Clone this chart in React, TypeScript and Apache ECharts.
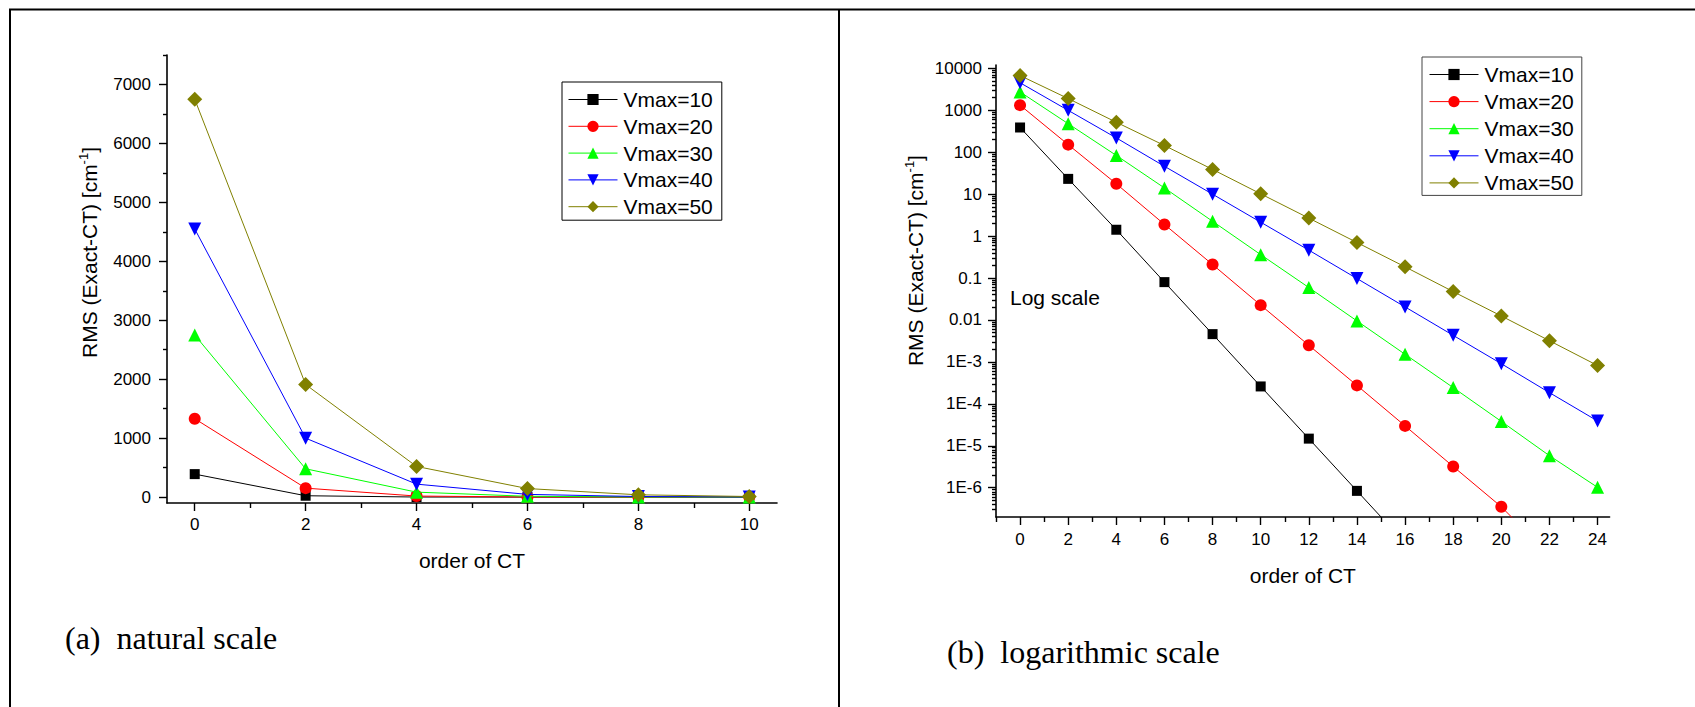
import React, { useEffect, useRef } from 'react';
import * as echarts from 'echarts';

// ---- data ----
const orders = [0, 2, 4, 6, 8, 10, 12, 14, 16, 18, 20, 22, 24];
const seriesNames = ['Vmax=10', 'Vmax=20', 'Vmax=30', 'Vmax=40', 'Vmax=50'];
const vmax10 = [390, 23.2, 1.42, 0.08, 0.0046, 2.6e-4, 1.48e-5, 8.4e-7, 4.8e-8];
const vmax20 = [1330, 152, 17.7, 1.9, 0.21, 0.0226, 0.00249, 2.75e-4, 2.98e-5, 3.2e-6, 3.5e-7, 2.5e-8];
const vmax30 = [2750, 480, 84, 14.1, 2.26, 0.362, 0.0594, 0.0095, 0.00152, 2.44e-4, 3.81e-5, 5.8e-6, 1.02e-6];
const vmax40 = [4550, 1000, 220, 46.3, 10.0, 2.15, 0.463, 0.0975, 0.0205, 0.0043, 9.06e-4, 1.85e-4, 3.9e-5];
const vmax50 = [6750, 1910, 520, 145, 39, 10.2, 2.69, 0.705, 0.185, 0.0475, 0.01245, 0.0032, 8.2e-4];
const allValues = [vmax10, vmax20, vmax30, vmax40, vmax50];

// tick labels
const linXMajor = [0, 2, 4, 6, 8, 10];
const linXMinor = [1, 3, 5, 7, 9];
const linYMajor = [0, 1000, 2000, 3000, 4000, 5000, 6000, 7000];
const linYMinor = [500, 1500, 2500, 3500, 4500, 5500, 6500, 7500];
const logXMajor = [0, 2, 4, 6, 8, 10, 12, 14, 16, 18, 20, 22, 24];
const logXMinor = [-1, 1, 3, 5, 7, 9, 11, 13, 15, 17, 19, 21, 23];
const logYMajor = [1e-6, 1e-5, 1e-4, 1e-3, 0.01, 0.1, 1, 10, 100, 1000, 10000];
const logYLabels = ['1E-6', '1E-5', '1E-4', '1E-3', '0.01', '0.1', '1', '10', '100', '1000', '10000'];
const logYMin = 2e-7;
const logYMax = 12000;
const logYMinor: number[] = [];
for (let k = -7; k <= 4; k++) {
  for (let m = 2; m <= 9; m++) {
    const v = m * Math.pow(10, k);
    if (v > logYMin * 1.0001 && v < logYMax) logYMinor.push(v);
  }
}

// ---- styles ----
const styles = [
  { color: '#000000', symbol: 'rect', size: 10, rotate: 0 },
  { color: '#ff0000', symbol: 'circle', size: 12, rotate: 0 },
  { color: '#00ff00', symbol: 'triangle', size: 13, rotate: 0 },
  { color: '#0000ff', symbol: 'triangle', size: 13, rotate: 180 },
  { color: '#808000', symbol: 'diamond', size: 15, rotate: 0 },
];
const FONT = "'Liberation Sans', Arial, sans-serif";
const SERIF = "'Liberation Serif', 'Times New Roman', serif";

function mkAxis(o: any) {
  const {
    gridIndex, type = 'value', min, max, ticks, labels, tickLen, main, formatter, margin, name, nameGap, namePad,
  } = o;
  return {
    type,
    gridIndex,
    min,
    max,
    position: o.position,
    offset: 0,
    axisLine: { show: !!main, onZero: false, lineStyle: { color: '#000', width: 1.6 } },
    axisTick: { show: true, inside: false, customValues: ticks, length: tickLen, lineStyle: { color: '#000', width: 1.4 } },
    axisLabel: main
      ? {
          show: true,
          customValues: labels || ticks,
          margin,
          fontSize: 17,
          color: '#000',
          fontFamily: FONT,
          formatter: formatter || ((v: number) => String(v)),
        }
      : { show: false },
    splitLine: { show: false },
    minorTick: { show: false },
    name: main ? name : undefined,
    nameLocation: 'middle',
    nameGap,
    nameTextStyle: {
      fontSize: 21,
      color: '#000',
      fontFamily: FONT,
      padding: namePad || 0,
      lineHeight: 24,
      rich: {
        sup: { fontSize: 13, fontFamily: FONT, color: '#000', verticalAlign: 'top', lineHeight: 12 },
      },
    },
  };
}

const logFormatter = (v: number) => {
  const e = Math.round(Math.log10(v));
  const idx = logYMajor.findIndex((t) => Math.round(Math.log10(t)) === e);
  return idx >= 0 ? logYLabels[idx] : '';
};

const yTitle = 'RMS (Exact-CT) [cm{sup|-1}]';

function buildSeries() {
  const out: any[] = [];
  allValues.forEach((vals, i) => {
    const st = styles[i];
    const common = {
      type: 'line',
      name: seriesNames[i],
      symbol: st.symbol,
      symbolSize: st.size,
      symbolRotate: st.rotate,
      showAllSymbol: true,
      clip: true,
      lineStyle: { color: st.color, width: 1 },
      itemStyle: { color: st.color },
      emphasis: { disabled: true },
      z: 2 + i,
    };
    const pts = vals.map((v, j) => [orders[j], v]);
    out.push({ ...common, xAxisIndex: 0, yAxisIndex: 0, data: pts.filter((p) => p[0] <= 10) });
    out.push({ ...common, xAxisIndex: 2, yAxisIndex: 2, data: pts });
  });
  return out;
}

const legendBase = {
  orient: 'vertical',
  data: seriesNames,
  itemWidth: 49,
  itemHeight: 14,
  itemGap: 5.8,
  borderColor: '#000',
  borderWidth: 1,
  backgroundColor: '#fff',
  selectedMode: false,
  lineStyle: { width: 1 },
  textStyle: { fontSize: 21, lineHeight: 21, color: '#000', fontFamily: FONT, padding: [0, 0, 0, 1] },
};

export default function App() {
  const ref = useRef<HTMLDivElement>(null);
  useEffect(() => {
    const chart = echarts.init(ref.current!, null, { renderer: 'svg' });
    const option: any = {
      animation: false,
      backgroundColor: '#fff',
      grid: [
        { left: 167, top: 55, width: 610, height: 448, outerBoundsMode: 'none', containLabel: false },
        { left: 996, top: 65.1, width: 613.6, height: 451.9, outerBoundsMode: 'none', containLabel: false },
      ],
      xAxis: [
        mkAxis({ gridIndex: 0, min: -0.5, max: 10.5, ticks: linXMajor, tickLen: 8, main: true, margin: 13, name: 'order of CT', nameGap: 45, position: 'bottom' }),
        mkAxis({ gridIndex: 0, min: -0.5, max: 10.5, ticks: linXMinor, tickLen: 5, main: false, position: 'bottom' }),
        mkAxis({ gridIndex: 1, min: -1, max: 24.5, ticks: logXMajor, tickLen: 8, main: true, margin: 14, name: 'order of CT', nameGap: 46, position: 'bottom' }),
        mkAxis({ gridIndex: 1, min: -1, max: 24.5, ticks: logXMinor, tickLen: 5, main: false, position: 'bottom' }),
      ],
      yAxis: [
        mkAxis({ gridIndex: 0, min: -100, max: 7500, ticks: linYMajor, tickLen: 8, main: true, margin: 16, name: yTitle, nameGap: 66, namePad: [0, 0, 0, 53], position: 'left' }),
        mkAxis({ gridIndex: 0, min: -100, max: 7500, ticks: linYMinor, tickLen: 4, main: false, position: 'left' }),
        mkAxis({ gridIndex: 1, type: 'log', min: logYMin, max: logYMax, ticks: logYMajor, tickLen: 8, main: true, margin: 14, formatter: logFormatter, name: yTitle, nameGap: 69, namePad: [0, 0, 0, 61], position: 'left' }),
        mkAxis({ gridIndex: 1, type: 'log', min: logYMin, max: logYMax, ticks: logYMinor, tickLen: 4, main: false, position: 'left' }),
      ],
      legend: [
        { ...legendBase, left: 562, top: 82, padding: [7, 9, 3, 6] },
        { ...legendBase, left: 1422, top: 57, padding: [7, 8, 2, 7], borderColor: '#444', itemGap: 6.1 },
      ],
      series: buildSeries(),
      graphic: [
        { type: 'line', shape: { x1: 9, y1: 9.5, x2: 1695, y2: 9.5 }, style: { stroke: '#000', lineWidth: 2 }, silent: true },
        { type: 'line', shape: { x1: 10, y1: 9, x2: 10, y2: 707 }, style: { stroke: '#000', lineWidth: 2 }, silent: true },
        { type: 'line', shape: { x1: 839, y1: 9, x2: 839, y2: 707 }, style: { stroke: '#000', lineWidth: 2 }, silent: true },
        { type: 'text', x: 65, y: 638, style: { text: '(a)  natural scale', fontSize: 32, fontFamily: SERIF, fill: '#000', verticalAlign: 'middle' }, silent: true },
        { type: 'text', x: 947, y: 652, style: { text: '(b)  logarithmic scale', fontSize: 32, fontFamily: SERIF, fill: '#000', verticalAlign: 'middle' }, silent: true },
        { type: 'text', x: 1010, y: 297, style: { text: 'Log scale', fontSize: 21, fontFamily: FONT, fill: '#000', verticalAlign: 'middle' }, silent: true },
      ],
    };
    chart.setOption(option);
    return () => chart.dispose();
  }, []);
  return (
    <div
      ref={ref}
      style={{ position: 'absolute', left: 0, top: 0, width: 1695, height: 707, background: '#fff' }}
    />
  );
}
